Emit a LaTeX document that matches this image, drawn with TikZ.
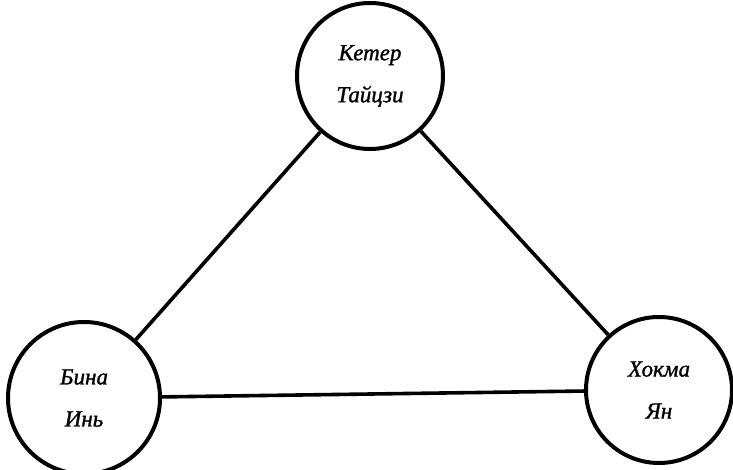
\documentclass[tikz,border=0pt]{standalone}
\usepackage{fontspec}
\setmainfont{Liberation Serif}
\newfontfamily\sefont{Liberation Serif}[ItalicFeatures={FakeBold=1.2}]
\begin{document}
\begin{tikzpicture}[x=1pt,y=1pt,
  sefira/.style={circle, draw, line width=4pt, minimum size=146pt, inner sep=0pt, align=center,
    font=\sefont\itshape\fontsize{23}{42}\selectfont},
  link/.style={line width=3.6pt}]
\useasboundingbox (0,0) rectangle (733,470);
\node[sefira] (keter) at (370,394) {Кетер\\Тайцзи};
\node[sefira, minimum size=152pt] (bina) at (84,72) {Бина\\Инь};
\node[sefira] (hokma) at (659,80) {Хокма\\Ян};
\draw[link] (keter) -- (bina);
\draw[link] (keter) -- (hokma);
\draw[link] (bina) -- (hokma);
\end{tikzpicture}
\end{document}
